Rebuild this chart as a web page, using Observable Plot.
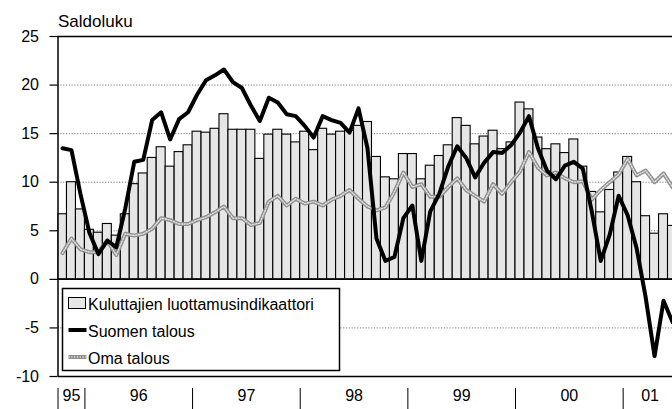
<!DOCTYPE html>
<html><head><meta charset="utf-8">
<script src="https://cdn.jsdelivr.net/npm/d3@7"></script>
<script src="https://cdn.jsdelivr.net/npm/@observablehq/plot@0.6"></script>
<style>
body{margin:0;background:#fff;}
#wrap{position:relative;width:672px;height:409px;font-family:"Liberation Sans",Arial,sans-serif;overflow:hidden;}
#wrap svg{display:block}
.ov{position:absolute;left:0;top:0;pointer-events:none}
</style></head><body><div id="wrap"></div>
<script>
// First month shown: October 1995, monthly data to June 2001
const startYear = 1995, startMonth = 10;
const kuluttajat = [6.7,10.0,7.2,5.1,4.8,5.7,4.5,6.7,9.8,10.9,12.5,13.6,
  11.6,13.1,13.8,15.2,15.1,15.5,17.0,15.4,15.4,15.4,12.4,14.9,
  15.4,14.9,14.1,15.2,13.3,15.5,14.9,15.2,15.3,15.8,16.2,12.6,
  10.5,10.3,12.9,12.9,10.3,11.7,12.7,13.8,16.6,15.8,13.9,14.7,
  15.3,13.4,14.1,18.2,17.5,14.6,13.4,13.9,13.0,14.4,11.6,9.0,
  6.9,9.2,11.0,12.6,10.0,6.5,4.7,6.7,5.5];
const suomenTalous = [13.5,13.3,8.8,4.8,2.6,4.0,3.3,7.3,12.1,12.3,16.4,17.2,
  14.4,16.5,17.2,19.0,20.5,21.0,21.6,20.3,19.7,17.9,16.3,18.7,
  18.2,17.0,16.8,15.8,14.6,16.8,16.4,16.1,15.1,17.6,13.5,4.2,
  1.9,2.3,6.3,7.6,1.9,7.0,8.8,11.6,13.7,12.5,10.5,12.0,
  13.1,13.0,13.8,15.1,16.8,13.5,11.2,10.3,11.7,12.1,11.4,7.0,
  1.9,4.6,8.6,6.6,3.2,-1.8,-7.9,-2.2,-4.4];
const omaTalous = [2.7,4.2,3.1,2.8,2.8,4.0,2.5,4.7,4.5,4.7,5.2,6.3,
  6.1,5.7,5.7,6.1,6.4,6.9,7.5,6.3,6.3,5.6,5.8,8.0,
  8.6,7.6,8.3,7.8,8.0,7.6,8.2,8.6,9.2,8.3,7.5,7.1,
  7.4,9.0,11.0,9.5,9.8,8.5,8.5,9.5,10.4,9.2,8.6,8.0,
  9.8,8.8,10.0,11.1,13.1,11.5,10.7,11.0,10.4,10.0,10.1,8.2,
  9.2,10.0,10.8,12.4,10.7,11.2,10.0,10.9,9.5];
const yearLabels = ["95","96","97","98","99","00","01"];
const seriesNames = ["Kuluttajien luottamusindikaattori","Suomen talous","Oma talous"];
const yTicks = [-10,-5,0,5,10,15,20,25];
const gridValues = [-5,5,10,15,20];
const visibleMonths = 68.5; // chart is cut at the right edge

const data = kuluttajat.map((v, i) => {
  const m = startMonth - 1 + i;
  return {i, year: startYear + Math.floor(m / 12), bar: v, suomen: suomenTalous[i], oma: omaTalous[i]};
});
const years = d3.groups(data, d => d.year).map(([y, rows], k) => ({
  year: y, label: yearLabels[k], start: rows[0].i, end: rows[rows.length - 1].i + 1
}));
years.forEach(d => d.mid = (d.start + d.end) / 2);
const seps = years.map(d => d.start);

const font = '"Liberation Sans", Arial, sans-serif';
const barFill = "#e6e6e6";
const greyBase = "#8e8e8e", greyTex = "#e2e2e2";

const chart = Plot.plot({
  width: 672, height: 409,
  marginTop: 36, marginBottom: 33, marginLeft: 57.5, marginRight: 0,
  style: {fontFamily: font, fontSize: "16px", color: "black", background: "white"},
  x: {type: "linear", domain: [0, visibleMonths], label: null},
  y: {domain: [-10, 25], label: null},
  marks: [
    Plot.ruleY(gridValues, {stroke: "#7a7a7a", strokeDasharray: "1.2,1.6", strokeWidth: 1}),
    Plot.rect(data, {x1: "i", x2: d => d.i + 1, y1: 0, y2: "bar", fill: barFill, stroke: "black", strokeWidth: 1.1, clip: true}),
    Plot.ruleY([0, 25, -10], {stroke: "black", strokeWidth: 1.5}),
    Plot.ruleX([0], {stroke: "black", strokeWidth: 1.5}),
    Plot.line(data, {x: d => d.i + 0.5, y: "oma", stroke: greyBase, strokeWidth: 4, clip: true}),
    Plot.line(data, {x: d => d.i + 0.5, y: "oma", stroke: greyTex, strokeWidth: 1.4, strokeDasharray: "1.2,1.6", clip: true}),
    Plot.line(data, {x: d => d.i + 0.5, y: "suomen", stroke: "black", strokeWidth: 4, strokeLinejoin: "round", clip: true}),
    Plot.axisY({ticks: yTicks, tickSize: 8, tickPadding: 11, tickFormat: d => String(d), fontSize: 16, label: null, strokeWidth: 1.2}),
    Plot.axisX({ticks: seps, tickSize: 21, tickFormat: () => "", dy: 12, label: null, strokeWidth: 1}),
    Plot.text(years, {x: "mid", text: "label", frameAnchor: "bottom", dy: 24, fontSize: 16, fill: "black"})
  ]
});
const wrap = document.getElementById("wrap");
wrap.appendChild(chart);

// title and legend overlay
const ov = d3.select(wrap).append("svg").attr("class", "ov").attr("width", 672).attr("height", 409)
  .style("font-family", font);
ov.append("text").attr("x", 58).attr("y", 27).attr("font-size", 17).text("Saldoluku");
const lg = ov.append("g").attr("transform", "translate(62.5,288.5)");
lg.append("rect").attr("width", 277).attr("height", 82).attr("fill", "white").attr("stroke", "black").attr("stroke-width", 1.5);
lg.append("rect").attr("x", 6).attr("y", 9).attr("width", 17).attr("height", 11).attr("fill", barFill).attr("stroke", "black");
lg.append("line").attr("x1", 6).attr("x2", 24).attr("y1", 41.5).attr("y2", 41.5).attr("stroke", "black").attr("stroke-width", 4);
lg.append("line").attr("x1", 6).attr("x2", 24).attr("y1", 68.5).attr("y2", 68.5).attr("stroke", greyBase).attr("stroke-width", 4);
lg.append("line").attr("x1", 6).attr("x2", 24).attr("y1", 68.5).attr("y2", 68.5).attr("stroke", greyTex).attr("stroke-width", 1.4).attr("stroke-dasharray", "1.2,1.6");
seriesNames.forEach((s, k) => {
  lg.append("text").attr("x", 25.5).attr("y", [21.5, 48.5, 75][k]).attr("font-size", 16).text(s);
});
</script></body></html>
